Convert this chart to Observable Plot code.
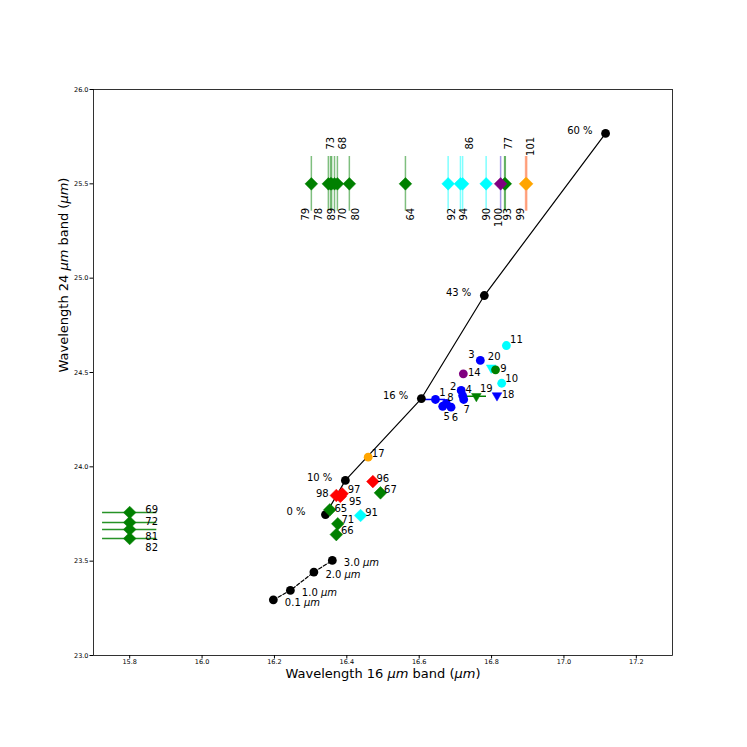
<!DOCTYPE html>
<html><head><meta charset="utf-8">
<script src="https://cdn.jsdelivr.net/npm/d3@7"></script>
<script src="https://cdn.jsdelivr.net/npm/@observablehq/plot@0.6"></script>
<style>body{margin:0;background:#fff;} #chart svg{display:block;}</style>
</head><body><div id="chart"></div>
<script>
// ---------- axis ticks ----------
const xTicks = [15.8, 16.0, 16.2, 16.4, 16.6, 16.8, 17.0, 17.2];
const yTicks = [23.0, 23.5, 24.0, 24.5, 25.0, 25.5, 26.0];
const xLabel = "Wavelength 16 μm band (μm)";
const yLabel = "Wavelength 24 μm band (μm)";

// ---------- mixing line (solid, black) ----------
const mixLabel = ["0 %", "10 %", "16 %", "43 %", "60 %"];
const mixX = [16.341, 16.396, 16.606, 16.780, 17.115];
const mixY = [23.747, 23.928, 24.362, 24.908, 25.767];

// ---------- particle size line (dashed, black) ----------
const sizeLabel = ["0.1 μm", "1.0 μm", "2.0 μm", "3.0 μm"];
const sizeX = [16.197, 16.244, 16.309, 16.360];
const sizeY = [23.295, 23.345, 23.442, 23.504];

// ---------- circle / triangle samples ----------
const ptId     = [1, 2, 3, 4, 5, 6, 7, 8, 9, 10, 11, 14, 17, 18, 19, 20];
const ptX      = [16.645, 16.716, 16.769, 16.720, 16.665, 16.688, 16.723, 16.675, 16.811, 16.828, 16.841, 16.722, 16.459, 16.815, 16.758, 16.799];
const ptY      = [24.357, 24.405, 24.564, 24.378, 24.321, 24.316, 24.357, 24.336, 24.514, 24.443, 24.643, 24.493, 24.051, 24.378, 24.374, 24.525];
const ptGroup  = ["blue","blue","blue","blue","blue","blue","blue","blue","green","cyan","cyan","purple","orange","blue","green","cyan"];
const ptMarker = ["circle","circle","circle","circle","circle","circle","circle","circle","circle","circle","circle","circle","circle","triangle","triangle","triangle"];
const ptXErr   = [0.028, 0, 0, 0, 0, 0, 0, 0, 0, 0, 0, 0, 0, 0, 0.028, 0];

// ---------- diamond samples ----------
const dmId    = [65, 66, 67, 71, 91, 95, 96, 97, 98];
const dmX     = [16.353, 16.371, 16.493, 16.375, 16.438, 16.382, 16.472, 16.387, 16.371];
const dmY     = [23.772, 23.641, 23.862, 23.698, 23.742, 23.843, 23.922, 23.857, 23.848];
const dmGroup = ["green","green","green","green","cyan","red","red","red","red"];

// ---------- samples with only a 24 µm value (left) ----------
const lfId   = [69, 72, 81, 82];
const lfX    = [15.8, 15.8, 15.8, 15.8];
const lfY    = [23.758, 23.705, 23.668, 23.620];
const lfXErr = [0.075, 0.075, 0.075, 0.075];

// ---------- samples with only a 16 µm value (top row) ----------
const tpId    = [64, 68, 70, 73, 77, 78, 79, 80, 86, 89, 90, 92, 93, 94, 99, 100, 101];
const tpX     = [16.562, 16.366, 16.374, 16.355, 16.838, 16.349, 16.302, 16.407, 16.720, 16.358, 16.785, 16.680, 16.836, 16.714, 16.894, 16.825, 16.897];
const tpY     = tpId.map(() => 25.5);
const tpYErr  = tpId.map(() => 0.145);
const tpGroup = ["green","green","green","green","green","green","green","green","cyan","green","cyan","cyan","green","cyan","orange","purple","orange"];
const tpSide  = ["below","above","below","above","above","below","below","below","above","below","below","below","below","below","below","below","above"];

// ---------- styles / layout (not data) ----------
const colors = {blue:"#0000ff", green:"#008000", cyan:"#00ffff", purple:"#800080", orange:"#ffa500", red:"#ff0000"};
const errColors = {blue:"#0000ff", green:"#008000", cyan:"#00ffff", purple:"#4a2fd0", orange:"#ff5a1a", red:"#ff0000"};
const nudge = {1:[7,-7],2:[-8,-4],3:[-9,-6],4:[6,-6],5:[4,11],6:[4,11],7:[3,10],8:[4,-6],9:[8,-1],10:[10,-4],11:[10,-6],14:[11,-1],17:[10,-3],18:[11,-1],19:[10,-7],20:[3,-11],
  65:[11,-1],66:[11,-4],67:[10,-3],71:[10,-4],91:[11,-3],95:[15,5],96:[10,-3],97:[12,-4],98:[-14,-2],
  69:[22,-3],72:[22,-1],81:[22,7],82:[22,9]};
const topNudge = {79:-6,78:-10,89:0,70:5,80:6,73:0,68:8,64:5,92:4,94:3,86:7,90:1,100:-2,93:3,77:3,99:-5,101:4};
const mixDx = [-20,-13,-13,-13,-13];

// ---------- build tables ----------
const mix = mixLabel.map((l,i)=>({label:l, x:mixX[i], y:mixY[i], dx:mixDx[i]}));
const size = sizeLabel.map((l,i)=>({label:l, x:sizeX[i], y:sizeY[i]}));
const pts = ptId.map((id,i)=>({id, x:ptX[i], y:ptY[i], g:ptGroup[i], m:ptMarker[i], xerr:ptXErr[i]}));
const dms = dmId.map((id,i)=>({id, x:dmX[i], y:dmY[i], g:dmGroup[i]}));
const lfs = lfId.map((id,i)=>({id, x:lfX[i], y:lfY[i], g:"green", xerr:lfXErr[i]}));
const tps = tpId.map((id,i)=>({id, x:tpX[i], y:tpY[i], g:tpGroup[i], yerr:tpYErr[i], side:tpSide[i]}));

const labelMarks = [...pts, ...dms, ...lfs].map(d => Plot.text([d], {
  x:"x", y:"y", text: d => String(d.id), dx: nudge[d.id][0], dy: nudge[d.id][1],
  fontSize: 10, fill: "black"
}));
const topLabelMarks = tps.map(d => Plot.text([d], {
  x:"x", y:"y", text: d => String(d.id), rotate: -90, textAnchor: "end",
  dx: topNudge[d.id], dy: d.side === "below" ? 24 : -47, fontSize: 10, fill: "black"
}));
const mixLabelMarks = mix.map(d => Plot.text([d], {x:"x", y:"y", text:"label", textAnchor:"end", dx:d.dx, dy:-3, fontSize:10}));

const chart = Plot.plot({
  width: 747, height: 747,
  marginLeft: 93, marginRight: 75, marginTop: 89, marginBottom: 92,
  style: {fontFamily: "DejaVu Sans", background: "white"},
  x: {domain: [15.7, 17.3]},
  y: {domain: [23, 26]},
  marks: [
    Plot.axisX({ticks: xTicks, tickSize: 3.5, tickPadding: 0.5, fontSize: 6.5, tickFormat: d3.format(".1f"), label: null}),
    Plot.axisY({ticks: yTicks, tickSize: 3.5, tickPadding: 1.5, fontSize: 6.5, tickFormat: d3.format(".1f"), label: null}),
    Plot.frame({stroke: "black", strokeWidth: 0.8}),
    Plot.text([xLabel], {frameAnchor: "bottom", dy: 22, fontSize: 13, text: d => d}),
    Plot.text([yLabel], {frameAnchor: "left", rotate: -90, dx: -30, fontSize: 13, text: d => d}),
    // lines
    Plot.line(mix, {x:"x", y:"y", stroke:"black", strokeWidth:1.2}),
    Plot.line(size, {x:"x", y:"y", stroke:"black", strokeWidth:1.2, strokeDasharray:"3.5,2"}),
    // error bars
    Plot.ruleY(pts.filter(d=>d.xerr>0), {y:"y", x1:d=>d.x-d.xerr, x2:d=>d.x+d.xerr, stroke:d=>errColors[d.g], strokeWidth:1.5}),
    Plot.ruleY(lfs, {y:"y", x1:d=>d.x-d.xerr, x2:d=>d.x+d.xerr, stroke:d=>errColors[d.g], strokeOpacity:0.85, strokeWidth:1.5}),
    Plot.ruleX(tps, {x:"x", y1:d=>d.y-d.yerr, y2:d=>d.y+d.yerr, stroke:d=>errColors[d.g], strokeOpacity:0.5, strokeWidth:1.5}),
    // black reference points
    Plot.dot(mix, {x:"x", y:"y", r:4.4, fill:"black"}),
    Plot.dot(size, {x:"x", y:"y", r:4.4, fill:"black"}),
    // samples
    Plot.dot(pts.filter(d=>d.m==="triangle"), {x:"x", y:"y", symbol:"triangle", rotate:180, r:3.6, fill:d=>colors[d.g], stroke:d=>colors[d.g], strokeWidth:0.5}),
    Plot.dot(pts.filter(d=>d.m==="circle"), {x:"x", y:"y", r:4.4, fill:d=>colors[d.g]}),
    Plot.dot([...dms, ...lfs, ...tps], {x:"x", y:"y", symbol:"diamond2", r:5.7, fill:d=>colors[d.g], stroke:d=>colors[d.g], strokeWidth:0.5}),
    // labels
    ...labelMarks,
    ...topLabelMarks,
    ...mixLabelMarks,
    Plot.text(size, {x:"x", y:"y", text:"label", textAnchor:"start", dx:11.5, dy:2.5, fontSize:10})
  ]
});

// italicise the "μm" parts, as in the mathtext of the original
chart.querySelectorAll("text").forEach(t => {
  if (t.querySelector("tspan")) return;
  const s = t.textContent;
  if (!s.includes("μm")) return;
  const parts = s.split("μm");
  t.textContent = "";
  parts.forEach((p, i) => {
    if (p) t.appendChild(document.createTextNode(p));
    if (i < parts.length - 1) {
      const ts = document.createElementNS("http://www.w3.org/2000/svg", "tspan");
      ts.setAttribute("font-style", "italic");
      ts.textContent = "μm";
      t.appendChild(ts);
    }
  });
});
document.getElementById("chart").appendChild(chart);
</script></body></html>
